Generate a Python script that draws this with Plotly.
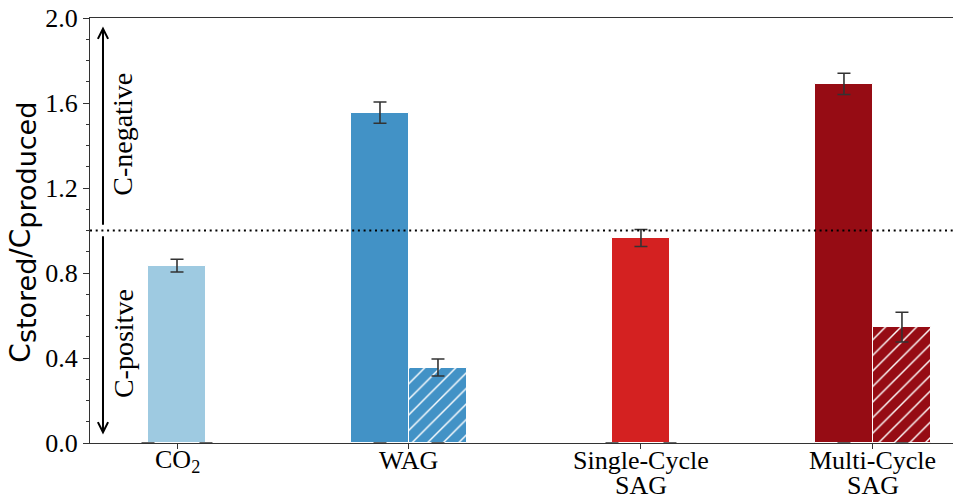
import plotly.graph_objects as go

# ---- data ----
categories = ["CO<sub>2</sub>", "WAG", "Single-Cycle", "Multi-Cycle"]
category_second_line = ["", "", "SAG", "SAG"]
solid_values = [0.835, 1.555, 0.965, 1.69]
solid_errors = [0.03, 0.05, 0.04, 0.05]
hatched_values = [0.0, 0.355, 0.0, 0.545]
hatched_errors = [0.0, 0.04, 0.0, 0.07]
solid_colors = ["#9ecae1", "#4292c6", "#d42121", "#960c14"]
has_pair = [False, True, False, True]

BW = 0.25
FONT = "Liberation Serif"
SANS = "DejaVu Sans"

fig = go.Figure()

# solid bars (centered when alone, shifted left when paired)
sx = [i - BW / 2 if p else i for i, p in enumerate(has_pair)]
fig.add_trace(go.Bar(
    x=sx, y=solid_values, width=BW,
    marker=dict(color=solid_colors, line=dict(color="white", width=1)),
    error_y=dict(type="data", array=solid_errors, color="#333333", thickness=1.6, width=6.5),
    showlegend=False,
))

# hatched bars
for i, p in enumerate(has_pair):
    if not p:
        continue
    fig.add_trace(go.Bar(
        x=[i + BW / 2], y=[hatched_values[i]], width=BW,
        marker=dict(color=solid_colors[i], line=dict(color="white", width=1),
                    pattern=dict(shape="/", fgcolor="white", bgcolor=solid_colors[i], fgopacity=1,
                                 size=11, solidity=0.13, fillmode="replace")),
        error_y=dict(type="data", array=[hatched_errors[i]], color="#333333", thickness=1.6, width=6.5),
        showlegend=False,
    ))

# zero-length error caps at the base
zx = []
for i in range(len(categories)):
    zx += [i - BW / 2, i + BW / 2]
fig.add_trace(go.Scatter(
    x=zx, y=[0] * len(zx), mode="markers",
    marker=dict(size=1, color="rgba(0,0,0,0)"),
    error_y=dict(type="data", array=[0] * len(zx), color="#333333", thickness=1.6, width=6.5),
    showlegend=False, hoverinfo="skip",
))

XR = [-0.375, 3.345]
PLOT_H = 425.0

# dotted line at 1
fig.add_shape(type="line", xref="x", yref="y", x0=XR[0], x1=XR[1], y0=1, y1=1,
              line=dict(color="black", width=2, dash="2px,3.7px"))

AX = -0.319
fig.add_annotation(x=AX, y=1.96, ax=AX, ay=1.02, xref="x", yref="y", axref="x", ayref="y",
                   text="", showarrow=True, arrowhead=5, arrowsize=1, arrowwidth=2, arrowcolor="black")
fig.add_annotation(x=AX, y=0.04, ax=AX, ay=0.98, xref="x", yref="y", axref="x", ayref="y",
                   text="", showarrow=True, arrowhead=5, arrowsize=1, arrowwidth=2, arrowcolor="black")

fig.add_annotation(x=-0.233, y=1.455, xref="x", yref="y", text="C-negative", textangle=-90,
                   showarrow=False, font=dict(family=FONT, size=28, color="black"))
fig.add_annotation(x=-0.233, y=0.47, xref="x", yref="y", text="C-positve", textangle=-90,
                   showarrow=False, font=dict(family=FONT, size=28, color="black"))

# category labels (two lines, tight spacing)
for i, t in enumerate(categories):
    fig.add_annotation(x=i, y=-(460.5 - 443) / PLOT_H, xref="x", yref="paper", text=t,
                       showarrow=False, yanchor="middle",
                       font=dict(family=FONT, size=26, color="black"))
for i, t in enumerate(category_second_line):
    if t:
        fig.add_annotation(x=i, y=-(485.5 - 443) / PLOT_H, xref="x", yref="paper", text=t,
                           showarrow=False, yanchor="middle",
                           font=dict(family=FONT, size=26, color="black"))

# y title
sub = "<span style='font-size:27px'>%s</span>"
fig.add_annotation(x=-67 / 863, y=0.495, xref="paper", yref="paper",
                   text="C<sub>" + sub % "stored" + "</sub>/C<sub>" + sub % "produced" + "</sub>",
                   textangle=-90, showarrow=False, xanchor="center", yanchor="middle",
                   font=dict(family=SANS, size=28, color="black"))

fig.update_layout(
    width=953, height=500,
    margin=dict(l=90, r=0, t=18, b=57),
    plot_bgcolor="white", paper_bgcolor="white",
    font=dict(family=FONT, size=26, color="black"),
    bargap=0, barmode="overlay",
    xaxis=dict(range=XR, tickvals=list(range(len(categories))), showticklabels=False,
               ticks="outside", ticklen=5, tickcolor="#333333", showline=True, linecolor="#333333",
               linewidth=1, mirror=True, showgrid=False, zeroline=False),
    yaxis=dict(range=[0, 2.0], tickvals=[0, 0.4, 0.8, 1.2, 1.6, 2.0], tickformat=".1f",
               ticks="outside", ticklen=6, tickcolor="#333333", showline=True, linecolor="#333333",
               linewidth=1, mirror=False, showgrid=False, zeroline=False,
               minor=dict(dtick=0.1, ticks="outside", ticklen=3, tickcolor="#333333"),
               tickfont=dict(family=FONT, size=26, color="black")),
)

fig.write_html("out.html")
